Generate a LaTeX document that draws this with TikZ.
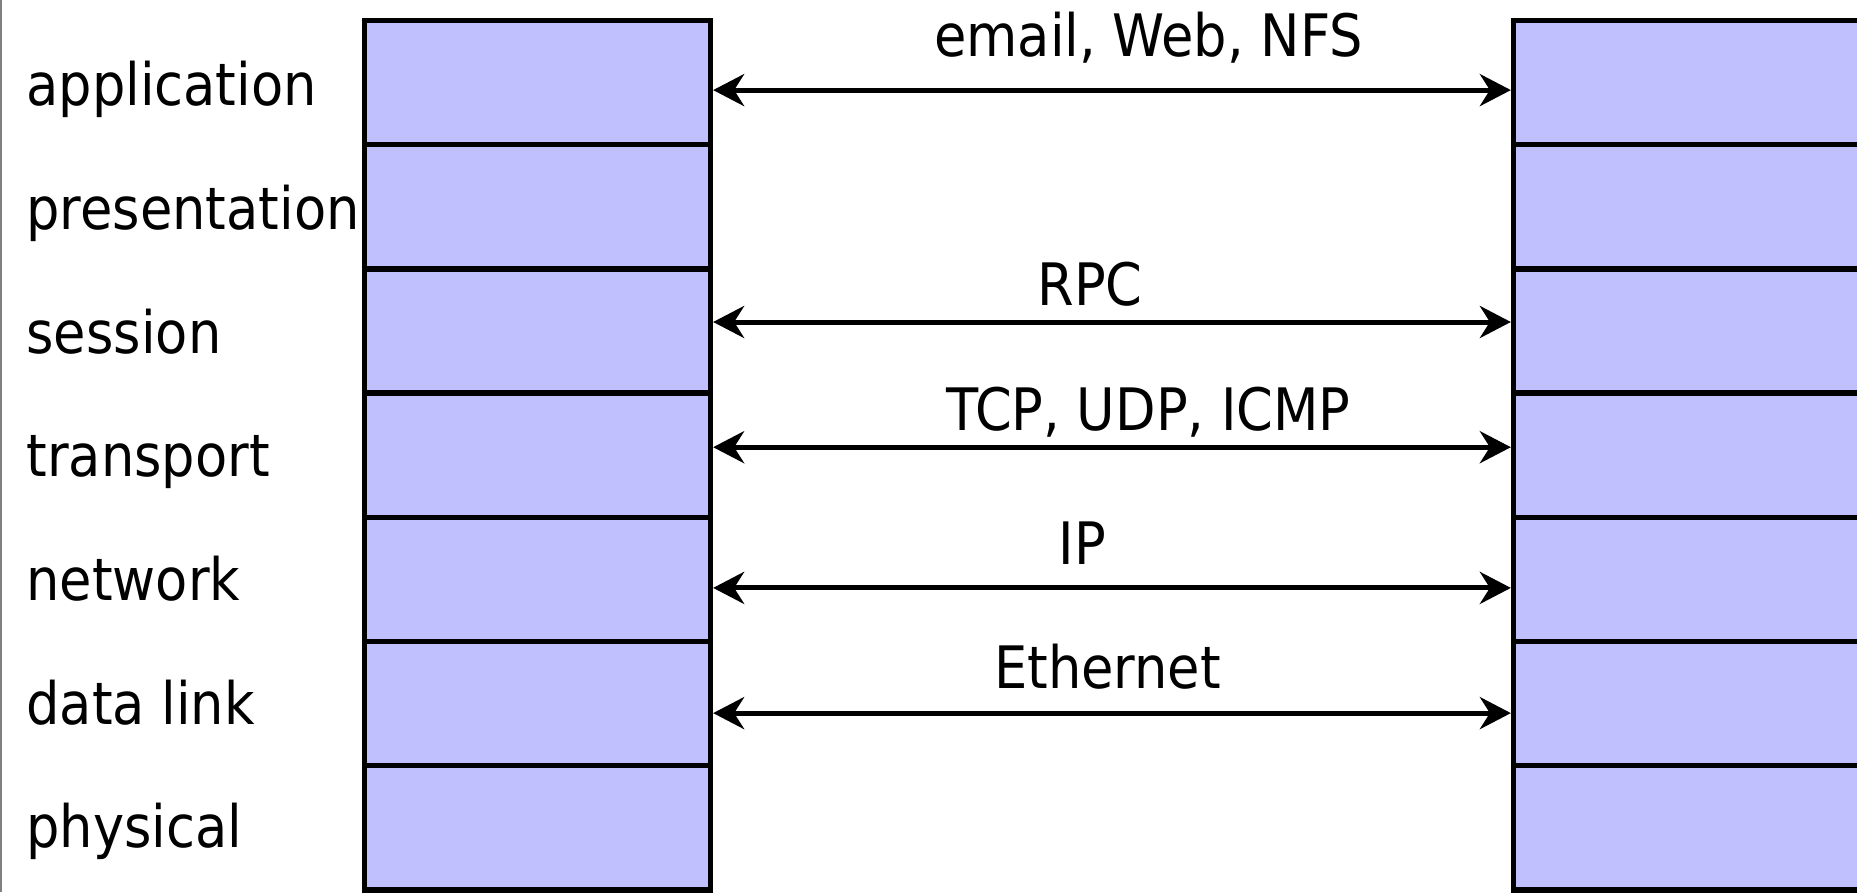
\documentclass[tikz,border=0pt]{standalone}
\usepackage{fontspec}
\setmainfont{DejaVu Sans Condensed}
\usetikzlibrary{arrows.meta}
\definecolor{layerfill}{RGB}{192,192,255}
\definecolor{edgegray}{RGB}{128,128,128}
\begin{document}
\begin{tikzpicture}[x=0.4pt,y=-0.4pt,
  layer/.style={draw=black, line width=2.1pt, fill=layerfill, rectangle,
    minimum height=49.68pt, inner sep=0pt},
  leftlayer/.style={layer, minimum width=138.4pt},
  rightlayer/.style={layer, minimum width=200pt},
  layername/.style={anchor=base west, inner sep=0pt, font=\fontsize{23.4}{28}\selectfont},
  protoname/.style={anchor=base, inner sep=0pt, font=\fontsize{23.4}{28}\selectfont},
  proto/.style={line width=2pt, {Stealth[length=12.4pt,width=12.8pt,inset=4pt]}-{Stealth[length=12.4pt,width=12.8pt,inset=4pt]}}]
  \useasboundingbox (0,0) rectangle (1857,892);
  \clip (0,0) rectangle (1857,892);
  \fill[white] (0,0) rectangle (1857,892);
  % thin frame line on the left edge
  \draw[edgegray, line width=0.8pt] (1,0) -- (1,892);

  % the two seven-layer stacks
  \foreach \i in {1,...,7} {
    \node[leftlayer]  (L\i) at (537.5, {20.5 + 124.2*(\i-0.5)}) {};
    \node[rightlayer] (R\i) at (1763.5, {20.5 + 124.2*(\i-0.5)}) {};
  }

  % layer names
  \node[layername] (n1) at (26,106)   {application};
  \node[layername] (n2) at (26,229.6) {presentation};
  \node[layername] (n3) at (26,353)   {session};
  \node[layername] (n4) at (26,476.8) {transport};
  \node[layername] (n5) at (26,600)   {network};
  \node[layername] (n6) at (26,724)   {data link};
  \node[layername] (n7) at (26,847.6) {physical};

  % peer protocols between the stacks
  \draw[proto] ([yshift=-3.0pt]L1.east) -- ([yshift=-3.0pt]R1.west);
  \draw[proto] ([yshift=3.6pt]L3.east)  -- ([yshift=3.6pt]R3.west);
  \draw[proto] ([yshift=3.2pt]L4.east)  -- ([yshift=3.2pt]R4.west);
  \draw[proto] ([yshift=-3.4pt]L5.east) -- ([yshift=-3.4pt]R5.west);
  \draw[proto] ([yshift=-3.8pt]L6.east) -- ([yshift=-3.8pt]R6.west);

  \node[protoname] (p1) at (1148.5,57) {email, Web, NFS};
  \node[protoname] (p3) at (1090,305)  {RPC};
  \node[protoname] (p4) at (1148.5,430) {TCP, UDP, ICMP};
  \node[protoname] (p5) at (1082.5,564) {IP};
  \node[protoname] (p6) at (1107.5,688) {Ethernet};
\end{tikzpicture}
\end{document}
